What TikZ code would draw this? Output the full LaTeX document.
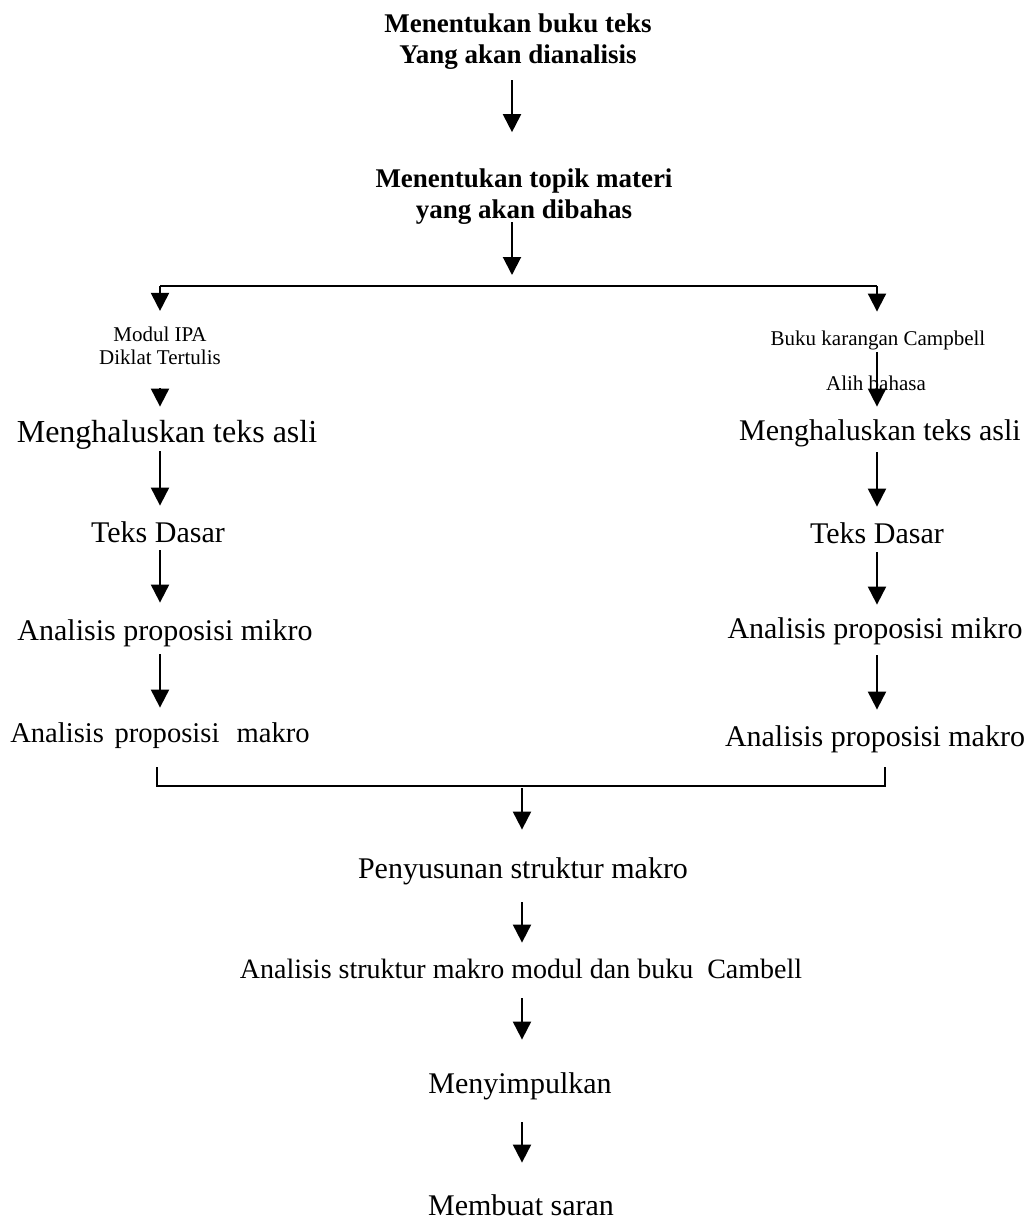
\documentclass[tikz,border=0pt]{standalone}
\usepackage{fontspec}
\setmainfont{Liberation Serif}
\usetikzlibrary{arrows.meta}
\usetikzlibrary{calc}

\begin{document}
\begin{tikzpicture}[x=0.5pt,y=-0.5pt,
    big/.style={inner sep=0pt,text height=11pt,text depth=3pt,font=\fontsize{15}{18}\selectfont},
    mid/.style={inner sep=0pt,text height=11pt,text depth=3pt,font=\fontsize{14}{17}\selectfont},
    head/.style={inner sep=0pt,align=center,font=\bfseries\fontsize{13.5}{15.5}\selectfont},
    small/.style={inner sep=0pt,align=center,font=\fontsize{10.5}{11.5}\selectfont},
    flow/.style={line width=0.035cm,-{Triangle[width=9pt,length=9pt]},shorten <=1.5pt,shorten >=7pt},
    link/.style={line width=0.035cm}]
\useasboundingbox (0,0) rectangle (1033,1223);

% Drawing the two headings
\node[head] (find) at (518,42) {Menentukan buku teks\\Yang akan dianalisis};
\node[head] (topic) at (524,197) {Menentukan topik materi\\yang akan dibahas};
\coordinate (split) at (512,286);
\coordinate (lsplit) at (160,286);
\coordinate (rsplit) at (877,286);

% Drawing left branch
\node[small] (modul) at (160,346) {Modul IPA\\Diklat Tertulis};
\node[big,font=\fontsize{16}{18}\selectfont] (lsmooth) at (167,434) {Menghaluskan teks asli};
\node[big] (lbase) at (158,534) {Teks Dasar};
\node[big] (lmicro) at (165,632) {Analisis proposisi mikro};
\node[big,font=\fontsize{14.3}{17}\selectfont] (lmacro) at (160,734) {Analisis\hspace{0.12em} proposisi\hspace{0.35em} makro};

% Drawing right branch
\node[small] (campbell) at (878,340) {Buku karangan Campbell};
\node[small] (transl) at (876,383) {Alih bahasa};
\node[big] (rsmooth) at (880,432) {Menghaluskan teks asli};
\node[big] (rbase) at (877,535) {Teks Dasar};
\node[big] (rmicro) at (875,630) {Analisis proposisi mikro};
\node[big] (rmacro) at (875,738) {Analisis proposisi makro};

% Drawing lower steps
\coordinate (merge) at (522,786);
\node[big] (struct) at (523,870) {Penyusunan struktur makro};
\node[mid] (compare) at (521,970) {Analisis struktur makro modul dan buku\ \ Cambell};
\node[big] (concl) at (520,1085) {Menyimpulkan};
\node[big] (advice) at (521,1207) {Membuat saran};

% Drawing connectors
\draw[flow,shorten <=5pt,shorten >=18.3pt] (find.south -| split) -- (topic.north -| split);
\draw[flow,shorten <=-1.4pt,shorten >=5.5pt] (topic.south -| split) -- (split);
\draw[link] (lsplit) -- (rsplit);
\draw[flow,shorten <=0pt,shorten >=7.9pt] (lsplit) -- (modul.north -| lsplit);
\draw[flow,shorten <=0pt,shorten >=9.25pt] (rsplit) -- (campbell.north -| rsplit);
\draw[flow,shorten <=11.5pt,shorten >=6.5pt] (modul.south -| lsplit) -- (lsmooth.north -| lsplit);
\draw[flow,shorten <=1.25pt,shorten >=5.5pt] (campbell.south -| rsplit) -- (rsmooth.north -| rsplit);
\draw[flow] (lsmooth.south -| lsplit) -- (lbase.north -| lsplit);
\draw[flow,shorten <=1pt,shorten >=7.5pt] (lbase.south -| lsplit) -- (lmicro.north -| lsplit);
\draw[flow,shorten <=4pt,shorten >=6pt] (lmicro.south -| lsplit) -- (lmacro.north -| lsplit);
\draw[flow,shorten <=3pt] (rsmooth.south -| rsplit) -- (rbase.north -| rsplit);
\draw[flow,shorten <=1.5pt,shorten >=5.5pt] (rbase.south -| rsplit) -- (rmicro.north -| rsplit);
\draw[flow,shorten <=5.5pt] (rmicro.south -| rsplit) -- (rmacro.north -| rsplit);
\draw[link,shorten <=9.5pt,shorten >=7.5pt] ([xshift=-1.5pt]lmacro.south) |- (merge) -| ([xshift=5pt]rmacro.south);
\draw[flow,shorten <=1pt,shorten >=13pt] (merge) -- (struct.north -| merge);
\draw[flow,shorten <=9pt,shorten >=6.5pt] (struct.south -| merge) -- (compare.north -| merge);
\draw[flow,shorten <=7pt,shorten >=15.5pt] (compare.south -| merge) -- (concl.north -| merge);
\draw[flow,shorten <=11.5pt,shorten >=15pt] (concl.south -| merge) -- (advice.north -| merge);
\end{tikzpicture}
\end{document}
